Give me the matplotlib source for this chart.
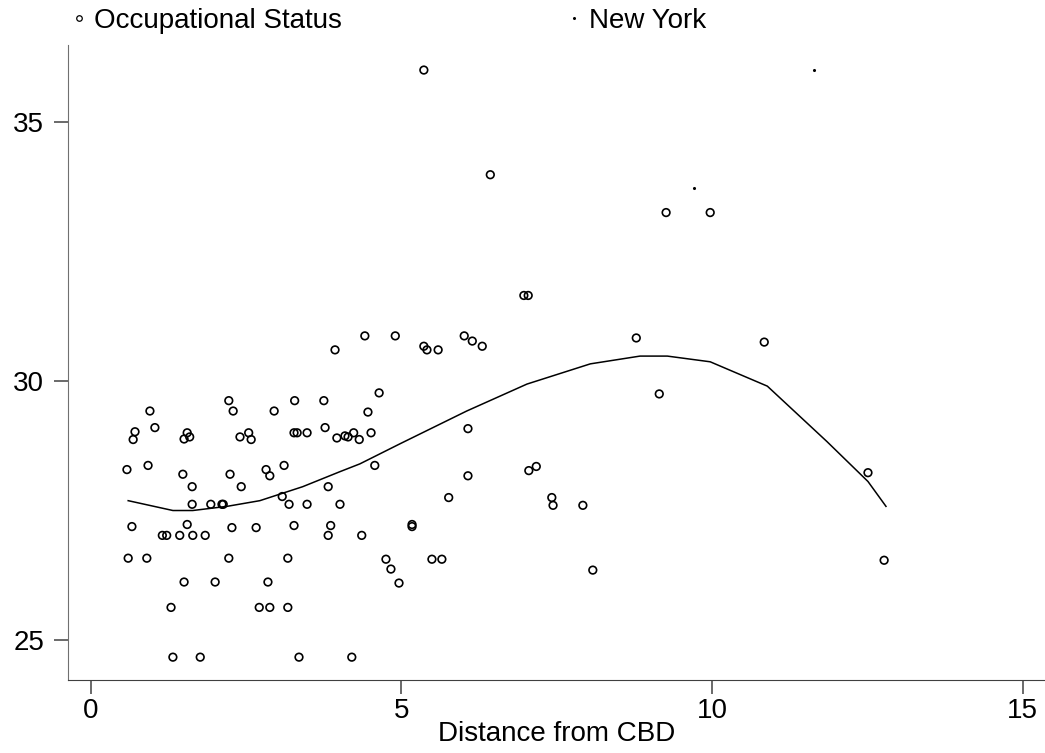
import matplotlib
matplotlib.use("Agg")
import matplotlib.pyplot as plt
from matplotlib.lines import Line2D

plt.rcParams['font.family'] = ['Liberation Sans', 'DejaVu Sans']

# ---- data ----
dist = [5.36, 6.43, 9.26, 9.97, 6.97, 7.04, 3.93, 4.41, 4.90, 5.36,
        5.41, 5.59, 6.01, 6.14, 6.30, 8.78, 10.84, 2.22, 3.28, 3.75,
        0.95, 2.29, 2.95, 0.71, 0.68, 1.03, 1.55, 1.50, 1.59, 2.40,
        2.54, 2.58, 3.27, 3.32, 3.48, 3.77, 3.96, 4.09, 4.14, 4.23,
        4.32, 4.51, 4.64, 4.46, 0.58, 0.92, 1.48, 2.24, 2.82, 2.88,
        3.11, 4.57, 6.07, 6.07, 7.05, 7.17, 9.15, 1.63, 2.42, 3.82,
        3.08, 1.63, 1.93, 2.11, 3.19, 3.48, 4.01, 5.76, 7.42, 7.44,
        7.92, 5.17, 5.17, 0.66, 1.55, 2.27, 2.66, 3.27, 3.86, 1.15,
        1.22, 1.43, 1.64, 1.84, 3.82, 4.36, 0.60, 0.90, 2.22, 3.17,
        4.75, 5.49, 5.65, 4.83, 4.96, 8.08, 1.50, 2.00, 2.85, 1.29,
        2.71, 2.88, 3.17, 1.32, 1.76, 3.35, 4.20, 12.51, 12.77, 2.13]
status = [36.0, 33.98, 33.25, 33.25, 31.65, 31.65, 30.6, 30.87, 30.87, 30.67,
          30.6, 30.6, 30.87, 30.77, 30.67, 30.83, 30.75, 29.62, 29.62, 29.62,
          29.42, 29.42, 29.42, 29.02, 28.87, 29.1, 29.0, 28.88, 28.92, 28.92,
          29.0, 28.87, 29.0, 29.0, 29.0, 29.1, 28.9, 28.94, 28.92, 29.0,
          28.87, 29.0, 29.77, 29.4, 28.29, 28.37, 28.2, 28.2, 28.29, 28.17,
          28.37, 28.37, 29.08, 28.17, 28.27, 28.35, 29.75, 27.96, 27.96, 27.96,
          27.77, 27.62, 27.62, 27.62, 27.62, 27.62, 27.62, 27.75, 27.75, 27.6,
          27.6, 27.19, 27.23, 27.19, 27.23, 27.17, 27.17, 27.21, 27.21, 27.02,
          27.02, 27.02, 27.02, 27.02, 27.02, 27.02, 26.58, 26.58, 26.58, 26.58,
          26.56, 26.56, 26.56, 26.37, 26.1, 26.35, 26.12, 26.12, 26.12, 25.63,
          25.63, 25.63, 25.63, 24.67, 24.67, 24.67, 24.67, 28.23, 26.54, 27.62]

ny_dist = [9.71, 11.64]
ny_status = [33.73, 36.0]

fit_dist = [0.60, 1.32, 1.64, 2.19, 2.72, 3.41, 4.01, 4.33, 4.98, 6.05,
            7.02, 8.04, 8.84, 9.28, 9.97, 10.89, 11.85, 12.51, 12.80]
fit_status = [27.69, 27.50, 27.50, 27.58, 27.69, 27.96, 28.25, 28.40, 28.79, 29.42,
              29.94, 30.33, 30.48, 30.48, 30.37, 29.90, 28.83, 28.06, 27.58]

# ---- figure ----
fig = plt.figure(figsize=(10.45, 7.53), dpi=100)
ax = fig.add_axes([0.065, 0.097, 0.935, 0.843])

ax.scatter(dist, status, s=30, facecolors='none', edgecolors='black', linewidths=1.2)
ax.scatter(ny_dist, ny_status, s=1.5, color='black')
ax.plot(fit_dist, fit_status, color='black', linewidth=1.1)

ax.set_xlim(-0.37, 15.36)
ax.set_ylim(24.23, 36.48)
ax.set_xticks([0, 5, 10, 15])
ax.set_yticks([25, 30, 35])
ax.set_xlabel('Distance from CBD', fontsize=20, labelpad=-2)

for s in ['top', 'right']:
    ax.spines[s].set_visible(False)
ax.spines['left'].set_color('#707070')
ax.spines['bottom'].set_color('#404040')
ax.tick_params(direction='out', length=10, width=1.2, color='#505050', labelsize=20)
ax.tick_params(axis='y', pad=7)
ax.tick_params(axis='x', pad=3)

h1 = Line2D([], [], linestyle='none', marker='o', markersize=4, markerfacecolor='none',
            markeredgecolor='black', markeredgewidth=0.9)
h2 = Line2D([], [], linestyle='none', marker='o', markersize=1.2, color='black')
fig.legend([h1, h2], ['Occupational Status', 'New York'], ncol=2, frameon=False,
           loc='upper left', bbox_to_anchor=(0.053, 1.012), fontsize=20,
           handlelength=0.5, handletextpad=0.3, columnspacing=8.1, borderaxespad=0.2)

fig.savefig('out.png', dpi=100)
